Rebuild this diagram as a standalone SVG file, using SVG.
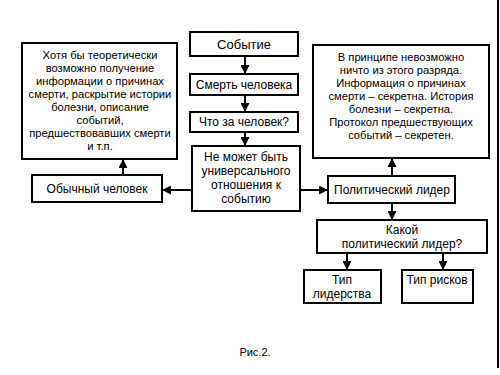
<svg xmlns="http://www.w3.org/2000/svg" width="500" height="375" viewBox="0 0 500 375">
<defs>
<marker id="ah" viewBox="0 0 10 10" refX="10" refY="5" markerWidth="4.5" markerHeight="4.5" orient="auto" markerUnits="strokeWidth">
<path d="M0,0 L10,5 L0,10 z" fill="#000"/>
</marker>
<style>
.box{fill:#fff;stroke:#000;stroke-width:2}
.t{font-family:"Liberation Sans",Arial,sans-serif;font-size:12px;fill:#000;text-anchor:middle}
.s{font-size:11.2px}
.c{stroke:#000;stroke-width:2;fill:none;marker-end:url(#ah)}
</style>
</defs>
<rect width="500" height="375" fill="#fff"/>
<line x1="498" y1="0" x2="498" y2="368" stroke="#000" stroke-width="2"/>
<g id="connectors">
<line class="c" x1="245" y1="56" x2="245" y2="74"/>
<line class="c" x1="245" y1="95" x2="245" y2="112"/>
<line class="c" x1="245" y1="132" x2="245" y2="146"/>
<line class="c" x1="192" y1="190" x2="162" y2="190"/>
<line class="c" x1="123" y1="175" x2="123" y2="159"/>
<line class="c" x1="300" y1="190" x2="328" y2="190"/>
<line class="c" x1="392" y1="176" x2="392" y2="158"/>
<line class="c" x1="392" y1="203" x2="392" y2="220"/>
<line class="c" x1="347" y1="253" x2="347" y2="270"/>
<line class="c" x1="443" y1="253" x2="443" y2="270"/>
</g>
<g id="n-event">
<rect class="box" x="190" y="32" width="108" height="24"/>
<text class="t" x="244" y="49" style="font-size:13px">Событие</text>
</g>
<g id="n-death">
<rect class="box" x="190" y="74" width="108" height="21"/>
<text class="t" x="244" y="89">Смерть человека</text>
</g>
<g id="n-who">
<rect class="box" x="190" y="112" width="108" height="20"/>
<text class="t" x="244" y="126">Что за человек?</text>
</g>
<g id="n-cannot">
<rect class="box" x="192" y="146" width="108" height="65"/>
<text class="t" x="246" y="161">Не может быть</text>
<text class="t" x="246" y="175">универсального</text>
<text class="t" x="246" y="189">отношения к</text>
<text class="t" x="246" y="203">событию</text>
</g>
<g id="n-left-info">
<rect class="box" x="22" y="43" width="155" height="116"/>
<text class="t s" x="100" y="59">Хотя бы теоретически</text>
<text class="t s" x="100" y="72">возможно получение</text>
<text class="t s" x="100" y="85">информации о причинах</text>
<text class="t s" x="100" y="98">смерти, раскрытие истории</text>
<text class="t s" x="100" y="111">болезни, описание</text>
<text class="t s" x="100" y="124">событий,</text>
<text class="t s" x="100" y="137">предшествовавших смерти</text>
<text class="t s" x="100" y="150">и т.п.</text>
</g>
<g id="n-ordinary">
<rect class="box" x="32" y="175" width="130" height="27"/>
<text class="t" x="97" y="193">Обычный человек</text>
</g>
<g id="n-right-info">
<rect class="box" x="313" y="45" width="176" height="113"/>
<text class="t s" x="401" y="61">В принципе невозможно</text>
<text class="t s" x="401" y="74">ничто из этого разряда.</text>
<text class="t s" x="401" y="87">Информация о причинах</text>
<text class="t s" x="401" y="100">смерти – секретна. История</text>
<text class="t s" x="401" y="113">болезни – секретна.</text>
<text class="t s" x="401" y="126">Протокол предшествующих</text>
<text class="t s" x="401" y="139">событий – секретен.</text>
</g>
<g id="n-political">
<rect class="box" x="328" y="176" width="127" height="27"/>
<text class="t" x="392" y="194">Политический лидер</text>
</g>
<g id="n-which">
<rect class="box" x="317" y="220" width="170" height="33"/>
<text class="t" x="402" y="234">Какой</text>
<text class="t" x="402" y="248">политический лидер?</text>
</g>
<g id="n-leadtype">
<rect class="box" x="304" y="270" width="77" height="33"/>
<text class="t" x="342" y="284">Тип</text>
<text class="t" x="342" y="298">лидерства</text>
</g>
<g id="n-risktype">
<rect class="box" x="402" y="270" width="71" height="33"/>
<text class="t" x="437" y="284">Тип рисков</text>
</g>
<text class="t" x="255" y="356" style="font-size:11px">Рис.2.</text>
</svg>
